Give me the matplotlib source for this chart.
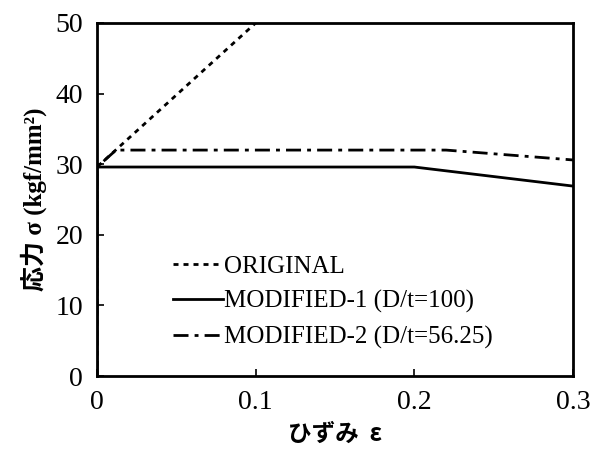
import matplotlib.pyplot as plt

plt.rcParams['font.family'] = ['Liberation Serif', 'Noto Sans CJK JP']

# strain / stress data
eps_orig = [0.0, 0.0, 0.1]
sig_orig = [0.0, 29.6, 50.0]

eps_mod1 = [0.0, 0.0, 0.2, 0.3]
sig_mod1 = [0.0, 29.6, 29.6, 26.9]

eps_mod2 = [0.0, 0.0, 0.012, 0.22, 0.3]
sig_mod2 = [0.0, 29.6, 32.0, 32.0, 30.6]

labels = ['ORIGINAL', 'MODIFIED-1 (D/t=100)', 'MODIFIED-2 (D/t=56.25)']

fig = plt.figure(figsize=(6, 4.49), dpi=100)
ax = fig.add_axes([97/600, 1-376/449, 476/600, 353/449])

ax.plot(eps_orig, sig_orig, color='black', lw=2, ls=(0, (1.8, 1.8)), label=labels[0])
ax.plot(eps_mod1, sig_mod1, color='black', lw=2, ls='-', label=labels[1])
ax.plot(eps_mod2, sig_mod2, color='black', lw=2, ls=(0, (5.4, 2.2, 1.4, 2.2)), label=labels[2])

ax.set_xlim(0, 0.3)
ax.set_ylim(0, 50)
ax.set_xticks([0, 0.1, 0.2, 0.3])
ax.set_xticklabels(['0', '0.1', '0.2', '0.3'])
ax.set_yticks([0, 10, 20, 30, 40, 50])
for s in ax.spines.values():
    s.set_linewidth(2)
ax.tick_params(direction='in', length=5, width=1.2, labelsize=20, top=False, right=False)
ax.tick_params(axis='x', pad=10)
ax.tick_params(axis='y', pad=10)

ax.set_xlabel('ひずみ  ε', family=['Noto Sans CJK JP', 'DejaVu Sans'], fontsize=17, fontweight='bold', labelpad=5)
ax.set_ylabel('応力 σ (kgf/mm²)', family=['Liberation Serif', 'Noto Sans CJK JP'], fontsize=18, fontweight='bold', labelpad=6)

ax.legend(loc='upper left', bbox_to_anchor=(0.138, 0.37), frameon=False, fontsize=18,
          handlelength=2.0, handletextpad=0.05, labelspacing=0.5, borderaxespad=0)

fig.savefig('out.png', dpi=100)
